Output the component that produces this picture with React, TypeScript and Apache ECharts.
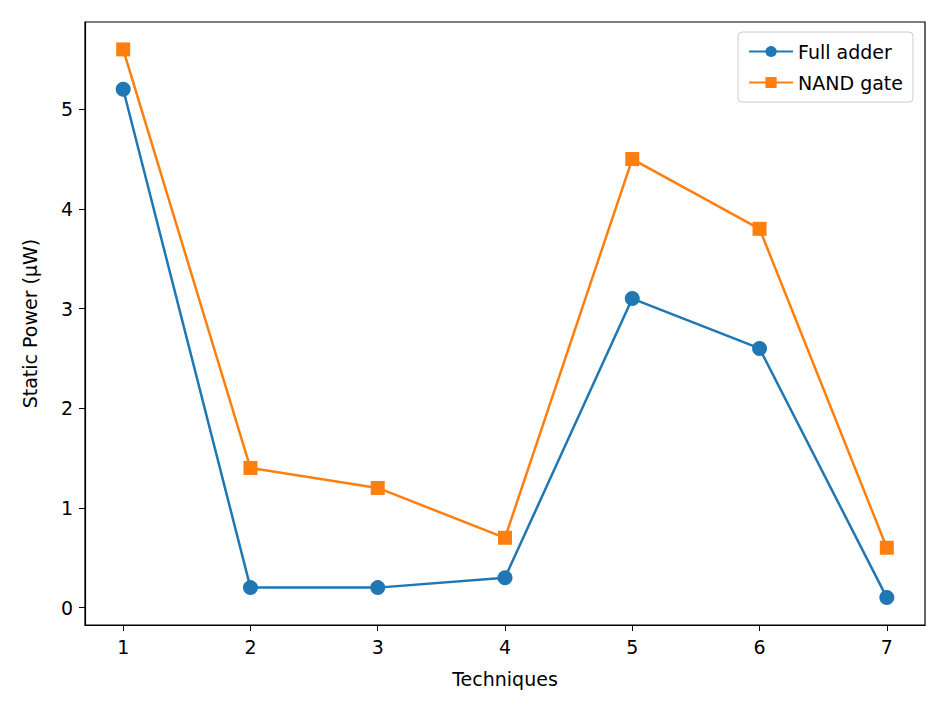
import React, { useEffect, useRef } from "react";
import * as echarts from "echarts";

const techniques = [1, 2, 3, 4, 5, 6, 7];
const fullAdder = [5.2, 0.2, 0.2, 0.3, 3.1, 2.6, 0.1];
const nandGate = [5.6, 1.4, 1.2, 0.7, 4.5, 3.8, 0.6];
const yTicks = [0, 1, 2, 3, 4, 5];

const App: React.FC = () => {
  const ref = useRef<HTMLDivElement>(null);
  useEffect(() => {
    const chart = echarts.init(ref.current as HTMLDivElement, undefined, { renderer: "svg" });
    const font = { fontFamily: "DejaVu Sans", fontSize: 19, color: "#000" };
    const axisLine = { show: true, onZero: false, lineStyle: { color: "#000", width: 1.2 } };
    chart.setOption({
      animation: false,
      textStyle: { fontFamily: "DejaVu Sans" },
      grid: { left: 77, right: 12, top: 14, bottom: 81, show: true, borderColor: "#000", borderWidth: 1.2 },
      legend: {
        right: 24,
        top: 24,
        orient: "vertical",
        itemGap: 12,
        itemWidth: 44,
        itemHeight: 14,
        padding: [10, 10],
        borderColor: "#ccc",
        borderWidth: 1,
        borderRadius: 4,
        textStyle: { ...font },
        data: ["Full adder", "NAND gate"],
      },
      xAxis: {
        type: "value",
        min: 0.7,
        max: 7.3,
        name: "Techniques",
        nameLocation: "middle",
        nameGap: 44,
        nameTextStyle: { ...font },
        axisLine,
        splitLine: { show: false },
        axisTick: { show: true, length: 6, customValues: techniques, lineStyle: { color: "#000" } },
        axisLabel: { ...font, margin: 12, customValues: techniques },
      },
      yAxis: {
        type: "value",
        min: -0.175,
        max: 5.875,
        name: "Static Power (µW)",
        nameLocation: "middle",
        nameGap: 46,
        nameTextStyle: { ...font },
        axisLine,
        splitLine: { show: false },
        axisTick: { show: true, length: 6, customValues: yTicks, lineStyle: { color: "#000" } },
        axisLabel: { ...font, margin: 12, customValues: yTicks },
      },
      series: [
        {
          name: "Full adder",
          type: "line",
          data: techniques.map((t, i) => [t, fullAdder[i]]),
          symbol: "circle",
          symbolSize: 15,
          itemStyle: { color: "#1f77b4" },
          lineStyle: { width: 2.5, color: "#1f77b4" },
        },
        {
          name: "NAND gate",
          type: "line",
          data: techniques.map((t, i) => [t, nandGate[i]]),
          symbol: "rect",
          symbolSize: 14,
          itemStyle: { color: "#ff7f0e" },
          lineStyle: { width: 2.5, color: "#ff7f0e" },
        },
      ],
    });
    return () => chart.dispose();
  }, []);
  return <div ref={ref} style={{ width: 929, height: 698 }} />;
};

export default App;
